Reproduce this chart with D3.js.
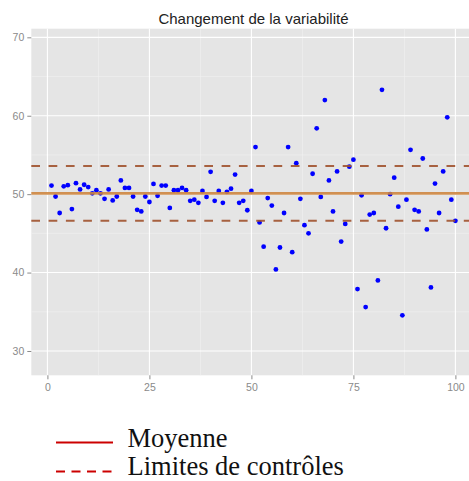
<!DOCTYPE html>
<html>
<head>
<meta charset="utf-8">
<script src="https://cdn.jsdelivr.net/npm/d3@7"></script>
<style>
  body { margin: 0; background: #fff; }
  svg { display: block; }
</style>
</head>
<body>
<div id="chart"></div>
<script>
const values = [
  51.1, 49.7, 47.6, 51.0, 51.15, 48.1, 51.4, 50.6, 51.2, 50.9,
  50.1, 50.5, 50.1, 49.4, 50.6, 49.2, 49.7, 51.75, 50.8, 50.8,
  49.7, 48.0, 47.8, 49.7, 49.0, 51.3, 49.8, 51.1, 51.1, 48.25,
  50.5, 50.5, 50.8, 50.5, 49.15, 49.3, 48.9, 50.4, 49.65, 52.85,
  49.15, 50.4, 48.9, 50.3, 50.7, 52.5, 48.9, 49.15, 47.95, 50.4,
  56.0, 46.4, 43.3, 49.5, 48.55, 40.4, 43.2, 47.6, 56.0, 42.6,
  53.95, 49.4, 46.05, 45.0, 52.6, 58.4, 49.65, 62.0, 51.75, 47.8,
  52.9, 43.95, 46.2, 53.5, 54.4, 37.9, 49.85, 35.6, 47.4, 47.6,
  39.0, 63.3, 45.65, 50.0, 52.1, 48.4, 34.55, 49.3, 55.65, 48.0,
  47.8, 54.55, 45.5, 38.1, 51.35, 47.6, 52.9, 59.8, 49.3, 46.6
];
const meanValue = 50.1;
const controlLimits = [46.6, 53.6];

const xTicks = [0, 25, 50, 75, 100];
const xMinor = [12.5, 37.5, 62.5, 87.5];
const yTicks = [30, 40, 50, 60, 70];
const yMinor = [35, 45, 55, 65];

const title = 'Changement de la variabilité';
const legendLabels = ['Moyenne', 'Limites de contrôles'];

const width = 469, height = 481;
const panel = { left: 31.3, right: 475.6, top: 28.7, bottom: 375.3 };

const svg = d3.select('#chart').append('svg')
  .attr('width', width)
  .attr('height', height);

const x = d3.scaleLinear().domain([-3.95, 104.95]).range([panel.left, panel.right]);
const y = d3.scaleLinear().domain([26.9, 71.1]).range([panel.bottom, panel.top]);

svg.append('rect')
  .attr('x', panel.left)
  .attr('y', panel.top)
  .attr('width', panel.right - panel.left)
  .attr('height', panel.bottom - panel.top)
  .attr('fill', '#E5E5E5');

const grid = svg.append('g');

// grille mineure
grid.selectAll('.xminor').data(xMinor).enter().append('line')
  .attr('x1', d => x(d)).attr('x2', d => x(d))
  .attr('y1', panel.top).attr('y2', panel.bottom)
  .attr('stroke', '#F2F2F2').attr('stroke-width', 0.6);
grid.selectAll('.yminor').data(yMinor).enter().append('line')
  .attr('y1', d => y(d)).attr('y2', d => y(d))
  .attr('x1', panel.left).attr('x2', panel.right)
  .attr('stroke', '#F2F2F2').attr('stroke-width', 0.6);

// grille majeure
grid.selectAll('.xmajor').data(xTicks).enter().append('line')
  .attr('x1', d => x(d)).attr('x2', d => x(d))
  .attr('y1', panel.top).attr('y2', panel.bottom)
  .attr('stroke', '#fff').attr('stroke-width', 1.1);
grid.selectAll('.ymajor').data(yTicks).enter().append('line')
  .attr('y1', d => y(d)).attr('y2', d => y(d))
  .attr('x1', panel.left).attr('x2', panel.right)
  .attr('stroke', '#fff').attr('stroke-width', 1.1);

// axes
const xAxis = d3.axisBottom(x).tickValues(xTicks).tickSize(4).tickPadding(4);
const yAxis = d3.axisLeft(y).tickValues(yTicks).tickSize(4).tickPadding(3);

const gx = svg.append('g').attr('transform', `translate(0,${panel.bottom})`).call(xAxis);
const gy = svg.append('g').attr('transform', `translate(${panel.left},0)`).call(yAxis);

[gx, gy].forEach(g => {
  g.select('.domain').remove();
  g.selectAll('.tick line').attr('stroke', '#8a8a8a');
  g.selectAll('.tick text')
    .attr('fill', '#8a8a8a')
    .style('font-family', 'Liberation Sans, Arial, sans-serif')
    .style('font-size', '10.5px');
});

// points
svg.append('g').selectAll('circle')
  .data(values)
  .enter().append('circle')
  .attr('cx', (d, i) => x(i + 1))
  .attr('cy', d => y(d))
  .attr('r', 2.4)
  .attr('fill', '#0000FF');

// limites de contrôle + moyenne
svg.append('g').selectAll('line')
  .data(controlLimits)
  .enter().append('line')
  .attr('x1', panel.left).attr('x2', width)
  .attr('y1', d => y(d)).attr('y2', d => y(d))
  .attr('stroke', '#A0522D')
  .attr('stroke-width', 2)
  .attr('stroke-dasharray', '8.7,8.6')
  .attr('stroke-opacity', 0.9);

svg.append('line')
  .attr('x1', panel.left).attr('x2', width)
  .attr('y1', y(meanValue)).attr('y2', y(meanValue))
  .attr('stroke', '#CD853F')
  .attr('stroke-width', 2.6)
  .attr('stroke-opacity', 0.9);

// titre
svg.append('text')
  .attr('x', (panel.left + panel.right) / 2)
  .attr('y', 24)
  .attr('text-anchor', 'middle')
  .attr('fill', '#222')
  .style('font-family', 'Liberation Sans, Arial, sans-serif')
  .style('font-size', '15px')
  .text(title);

// légende
const legend = svg.append('g');
const legendY = [442.5, 471.5];
const legendText = [446.5, 475];

legend.selectAll('line')
  .data(legendLabels)
  .enter().append('line')
  .attr('x1', 56).attr('x2', 113)
  .attr('y1', (d, i) => legendY[i]).attr('y2', (d, i) => legendY[i])
  .attr('stroke', '#CC0000')
  .attr('stroke-width', 2)
  .attr('stroke-dasharray', (d, i) => i === 0 ? null : '9,6.5');

legend.selectAll('text')
  .data(legendLabels)
  .enter().append('text')
  .attr('x', 127.5)
  .attr('y', (d, i) => legendText[i])
  .attr('fill', '#111')
  .style('font-family', 'Liberation Serif, Times New Roman, serif')
  .style('font-size', '26.5px')
  .text(d => d);
</script>
</body>
</html>
